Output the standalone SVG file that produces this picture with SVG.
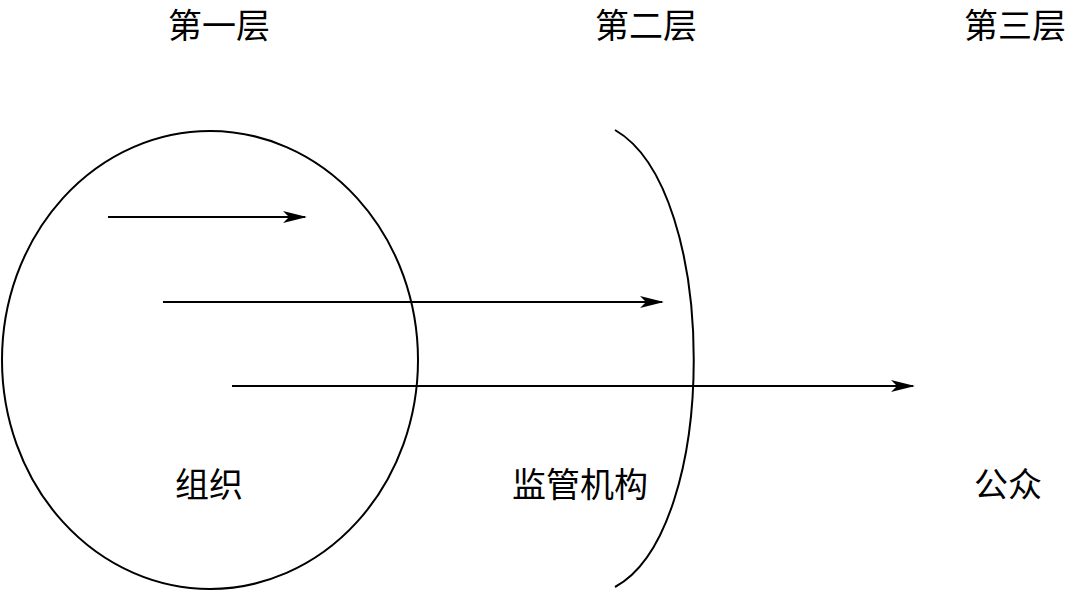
<svg xmlns="http://www.w3.org/2000/svg" width="1070" height="591" viewBox="0 0 1070 591">
<style>
text{font-family:"Noto Sans CJK SC","Noto Sans",sans-serif;font-size:34px;fill:#000;text-anchor:middle}
.s{fill:none;stroke:#000;stroke-width:2}
</style>
<defs>
<marker id="ah" markerWidth="24" markerHeight="12" refX="22" refY="6" orient="auto" markerUnits="userSpaceOnUse">
<path d="M0,0 L24,6 L0,12 L6,6 Z" fill="#000"/>
</marker>
</defs>
<rect width="1070" height="591" fill="#fff"/>
<g id="labels">
<text x="219" y="38">第一层</text>
<text x="646" y="38">第二层</text>
<text x="1015" y="38">第三层</text>
</g>
<g id="org">
<ellipse class="s" cx="210" cy="360" rx="208" ry="229"/>
<text x="209" y="497">组织</text>
</g>
<g id="regulator">
<path class="s" d="M615,130 C720,190 720,530 615,587"/>
<text x="580" y="497">监管机构</text>
</g>
<g id="public">
<text x="1008" y="497">公众</text>
</g>
<g id="connectors">
<line class="s" x1="108" y1="217" x2="305" y2="217" marker-end="url(#ah)"/>
<line class="s" x1="163" y1="302" x2="662" y2="302" marker-end="url(#ah)"/>
<line class="s" x1="232" y1="386" x2="913" y2="386" marker-end="url(#ah)"/>
</g>
</svg>
